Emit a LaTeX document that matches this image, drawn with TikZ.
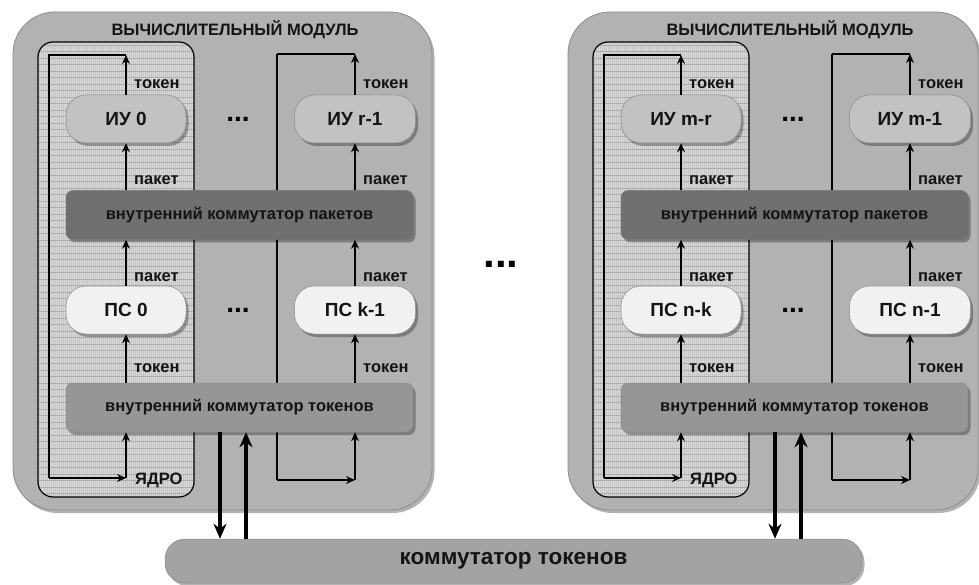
\documentclass[tikz,border=0pt]{standalone}
\usepackage{fontspec}
\setmainfont{Liberation Sans}
\usetikzlibrary{arrows.meta,shadows}
\definecolor{modfill}{HTML}{B2B2B2}
\definecolor{modedge}{HTML}{8C8C8C}
\definecolor{iufill}{HTML}{C2C2C2}
\definecolor{psfill}{HTML}{F1F1F1}
\definecolor{pswfill}{HTML}{707070}
\definecolor{tswfill}{HTML}{969696}
\definecolor{bigfill}{HTML}{A3A3A3}
\definecolor{nodeedge}{HTML}{8A8A8A}
\definecolor{corefill}{HTML}{D8D8D8}
\definecolor{corev}{HTML}{C6C6C6}
\definecolor{coreh}{HTML}{ADADAD}
\definecolor{ink}{HTML}{141414}
\tikzset{
  softshadow/.style={drop shadow={shadow xshift=2.5pt,shadow yshift=-3pt,opacity=0.3,fill=black}},
  module/.style={fill=modfill,draw=modedge,line width=0.8pt,rounded corners=42pt,softshadow},
  unit/.style={rectangle,rounded corners=20pt,minimum width=120pt,minimum height=48pt,inner sep=0pt,
    draw=nodeedge,line width=0.5pt,text=ink,font=\bfseries\fontsize{19}{22}\selectfont,softshadow},
  iu/.style={unit,fill=iufill},
  ps/.style={unit,fill=psfill},
  switchbox/.style={rectangle,rounded corners=7pt,minimum width=347pt,minimum height=49pt,inner sep=0pt,
    draw=nodeedge,line width=0.5pt,text=ink,font=\bfseries\fontsize{16.5}{19}\selectfont,softshadow},
  pswitch/.style={switchbox,fill=pswfill,draw=black!55},
  tswitch/.style={switchbox,fill=tswfill},
  bigswitch/.style={rectangle,rounded corners=20pt,minimum width=697pt,minimum height=44pt,inner sep=0pt,
    fill=bigfill,draw=nodeedge,line width=0.5pt,text=ink,font=\bfseries\fontsize{22.5}{25}\selectfont,softshadow},
  title/.style={text=ink,font=\bfseries\fontsize{16.5}{19}\selectfont,inner sep=0pt},
  lbl/.style={anchor=west,text=ink,font=\bfseries\fontsize{16.5}{19}\selectfont,inner sep=0pt},
  dotsnode/.style={text=black,font=\bfseries\fontsize{28}{30}\selectfont,inner sep=0pt},
  wire/.style={line width=1.3pt,draw=black},
  flow/.style={line width=1.3pt,draw=black,-{Stealth[length=9pt,width=8pt]}},
  bigflow/.style={line width=3.6pt,draw=black,-{Stealth[length=15pt,width=13pt]}},
}
% #1 prefix, #2 x shift, #3 module width, #4 IU a, #5 IU b, #6 PS a, #7 PS b
\newcommand\vmodule[7]{%
\begin{scope}[shift={(#2,0)}]
  \path[module] (13,12) rectangle (13+#3,510);
  \node[title] (#1title) at (235,30) {ВЫЧИСЛИТЕЛЬНЫЙ МОДУЛЬ};
  % core
  \begin{scope}
    \clip[rounded corners=15pt] (38,42) rectangle (194,497);
    \fill[corefill] (38,42) rectangle (194,497);
    \foreach \xx in {39,41,...,193} \draw[corev,line width=0.7pt] (\xx,42) -- (\xx,497);
    \foreach \yy in {45,51.5,...,497} \draw[coreh,line width=0.8pt] (38,\yy) -- (194,\yy);
  \end{scope}
  \draw[line width=1.2pt,rounded corners=15pt] (38,42) rectangle (194,497);
  % loop coordinates
  \coordinate (#1tl) at (49,55);
  \coordinate (#1bl) at (49,478);
  \coordinate (#1tr) at (277,54);
  \coordinate (#1br) at (277,480);
  \coordinate (#1dnx) at (220,0);
  \coordinate (#1upx) at (246,0);
  \draw[wire] (#1tr) -- (#1br);
  % units
  \node[iu] (#1iua) at (126,119) {#4};
  \node[iu,minimum width=121pt] (#1iub) at (355,119) {#5};
  \node[dotsnode] (#1dota) at (238,119) {...};
  \node[pswitch] (#1psw) at (239.5,215) {внутренний коммутатор пакетов};
  \node[ps] (#1psa) at (126,310) {#6};
  \node[ps,minimum width=121pt] (#1psb) at (355,310) {#7};
  \node[dotsnode] (#1dotb) at (238,310) {...};
  \node[tswitch] (#1tsw) at (239.5,407.5) {внутренний коммутатор токенов};
  % column a
  \draw[flow] (#1iua.north) -- (#1iua.north |- #1tl);
  \draw[wire] (#1iua.north |- #1tl) -- (#1tl) -- (#1bl);
  \draw[flow] (#1bl) -- (#1bl -| #1iua.south);
  \draw[flow] (#1bl -| #1iua.south) -- (#1iua.south |- #1tsw.south);
  \draw[flow] (#1iua.south |- #1psw.north) -- (#1iua.south);
  \draw[flow] (#1psa.north) -- (#1psa.north |- #1psw.south);
  \draw[flow] (#1psa.south |- #1tsw.north) -- (#1psa.south);
  % column b
  \draw[flow] (#1iub.north) -- (#1iub.north |- #1tr);
  \draw[wire] (#1iub.north |- #1tr) -- (#1tr);
  \draw[flow] (#1br) -- (#1br -| #1iub.south);
  \draw[flow] (#1br -| #1iub.south) -- (#1iub.south |- #1tsw.south);
  \draw[flow] (#1iub.south |- #1psw.north) -- (#1iub.south);
  \draw[flow] (#1psb.north) -- (#1psb.north |- #1psw.south);
  \draw[flow] (#1psb.south |- #1tsw.north) -- (#1psb.south);
  % labels
  \node[lbl] (#1la1) at (134,84) {токен};
  \node[lbl] (#1la2) at (134,180) {пакет};
  \node[lbl] (#1la3) at (134,277) {пакет};
  \node[lbl] (#1la4) at (134,368) {токен};
  \node[lbl] (#1lb1) at (363,84) {токен};
  \node[lbl] (#1lb2) at (363,180) {пакет};
  \node[lbl] (#1lb3) at (363,277) {пакет};
  \node[lbl] (#1lb4) at (363,368) {токен};
  \node[lbl] (#1core) at (135,480) {ЯДРО};
\end{scope}}
\begin{document}
\begin{tikzpicture}[x=1pt,y=-1pt]
  \useasboundingbox (0,0) rectangle (979,585);
  \fill[white] (0,0) rectangle (979,585);
  \vmodule{L}{0}{419}{ИУ 0}{ИУ r-1}{ПС 0}{ПС k-1}
  \vmodule{R}{555}{410}{ИУ m-r}{ИУ m-1}{ПС n-k}{ПС n-1}
  \node[dotsnode,font=\bfseries\fontsize{42}{44}\selectfont] (mdots) at (501,264) {...};
  \node[bigswitch] (bigsw) at (513.5,561) {коммутатор токенов};
  \draw[bigflow] (Ltsw.south -| Ldnx) -- (Ldnx |- bigsw.north);
  \draw[bigflow] (Lupx |- bigsw.north) -- (Lupx |- Ltsw.south);
  \draw[bigflow] (Rtsw.south -| Rdnx) -- (Rdnx |- bigsw.north);
  \draw[bigflow] (Rupx |- bigsw.north) -- (Rupx |- Rtsw.south);
\end{tikzpicture}
\end{document}
